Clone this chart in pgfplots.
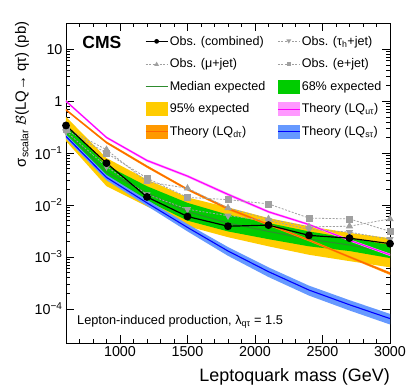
\documentclass[border=0pt]{standalone}
\usepackage{fontspec}
\setmainfont{Liberation Sans}
\usepackage{pgfplots}
\pgfplotsset{compat=1.18}
\usepackage{pgfplotstable}

\definecolor{cmsyellow}{HTML}{FFCC00}
\definecolor{cmsgreen}{HTML}{00CC00}
\definecolor{medgreen}{HTML}{2E8B2E}
\definecolor{obsgrey}{HTML}{A0A0A0}
\definecolor{lqmag}{HTML}{FF00FF}
\definecolor{lqmagband}{HTML}{FF99FF}
\definecolor{lqorange}{HTML}{FF6600}
\definecolor{lqorangeband}{HTML}{FF9900}
\definecolor{lqblue}{HTML}{0000FF}
\definecolor{lqblueband}{HTML}{6699FF}

% observed limits
\pgfplotstableread{
m     comb     tau      mu       el
600   0.34     0.26     0.30     0.28
900   0.064    0.055    0.116    0.100
1200  0.0143   0.016    0.028    0.033
1500  0.0060   0.0083   0.021    0.014
1800  0.0039   0.0062   0.0088   0.0127
2100  0.0041   0.0050   0.0054   0.0105
2400  0.0026   0.0034   0.0038   0.0056
2700  0.0023   0.0030   0.0039   0.0054
3000  0.0018   0.0022   0.0054   0.0031
}\obsdata

% expected median
\pgfplotstableread{
m     med
600   0.27
900   0.043
1200  0.017
1500  0.0075
1800  0.0045
2100  0.0031
2400  0.0022
2700  0.0017
3000  0.0012
}\expdata

% 95% band: upper edge forward, lower edge backward
\pgfplotstableread{
m     v
600   0.50
900   0.080
1200  0.031
1500  0.0140
1800  0.0090
2100  0.0056
2400  0.0039
2700  0.0029
3000  0.0023
3000  0.00063
2700  0.00083
2400  0.0011
2100  0.0016
1800  0.0024
1500  0.0039
1200  0.0094
900   0.023
600   0.17
}\bandyellow

% 68% band
\pgfplotstableread{
m     v
600   0.36
900   0.058
1200  0.023
1500  0.011
1800  0.0065
2100  0.0045
2400  0.0031
2700  0.0023
3000  0.0017
3000  0.00095
2700  0.0013
2400  0.0016
2100  0.0022
1800  0.0031
1500  0.0050
1200  0.012
900   0.031
600   0.21
}\bandgreen

% theory central values
\pgfplotstableread{
m     ut       dt       st
600   1.0      0.68     0.21
900   0.20     0.16     0.034
1200  0.072    0.055    0.011
1500  0.036    0.020    0.0037
1800  0.016    0.0085   0.0013
2100  0.0074   0.0042   0.00052
2400  0.0042   0.0021   0.00023
2700  0.0021   0.0010   0.00012
3000  0.0011   0.00048  0.000065
}\thdata

% theory bands (upper forward, lower backward)
\pgfplotstableread{
m     ut        dt        st
600   1.05      0.71      0.23
900   0.21      0.168     0.038
1200  0.076     0.058     0.0126
1500  0.038     0.021     0.0043
1800  0.017     0.0090    0.00155
2100  0.0078    0.0044    0.00063
2400  0.0044    0.0022    0.00028
2700  0.0022    0.00105   0.000147
3000  0.00116   0.00051   0.000080
3000  0.00104   0.00045   0.000050
2700  0.0020    0.00095   0.000093
2400  0.0040    0.0020    0.00018
2100  0.0070    0.0040    0.00041
1800  0.015     0.0080    0.00105
1500  0.034     0.019     0.0031
1200  0.068     0.052     0.0096
900   0.19      0.152     0.030
600   0.95      0.65      0.19
}\thband

\begin{document}
\begin{tikzpicture}
\begin{axis}[
  at={(0,0)}, anchor=south west,
  scale only axis, width=324bp, height=320bp,
  xmin=600, xmax=3000,
  ymode=log, ymin=2.2e-5, ymax=32,
  xtick={1000,1500,2000,2500,3000},
  minor xtick={600,700,800,900,1100,1200,1300,1400,1600,1700,1800,1900,2100,2200,2300,2400,2600,2700,2800,2900},
  ytick={1e-4,1e-3,1e-2,1e-1,1,10},
  yticklabels={10\textsuperscript{−4},10\textsuperscript{−3},10\textsuperscript{−2},10\textsuperscript{−1},1,10},
  tick align=inside, xtick pos=both, ytick pos=both,
  major tick length=8bp, minor tick length=4bp,
  every tick/.style={black, line width=0.5pt},
  axis line style={black, line width=0.7pt},
  ticklabel style={font=\fontsize{14.4}{16}\selectfont},
  /pgf/number format/assume math mode=true,
  /pgf/number format/1000 sep={},
  xlabel={Leptoquark mass (GeV)},
  xlabel style={at={(axis description cs:1,-0.078)}, anchor=north east, inner sep=0pt, font=\fontsize{18}{20}\selectfont},
  ylabel={σ\textsubscript{scalar} $\mathcal{B}$(LQ→ qτ) (pb)},
  ylabel style={at={(axis description cs:-0.136,1.005)}, anchor=east, inner sep=0pt, font=\fontsize{15}{17}\selectfont},
  legend columns=2,
  legend cell align=left,
  legend style={at={(axis description cs:0.2438,0.978)}, anchor=north west, draw=none, fill=none,
    inner sep=0pt, outer sep=0pt, row sep=0pt, column sep=0pt,
    font=\fontsize{12.6}{14}\selectfont, nodes={inner sep=1.5bp}},
]

% legend entries
\addlegendimage{legend image code/.code={\path[draw=none,fill=none] (0bp,-11.3bp) rectangle (22bp,11.3bp);
   \draw[black, line width=1.2pt] (0bp,0bp) -- (22bp,0bp); \fill[black, draw=none] (11bp,0bp) circle (2.4bp);}}
\addlegendentry{\makebox[106bp][l]{Obs. (combined)}}
\addlegendimage{legend image code/.code={\path[draw=none,fill=none] (0bp,-11.3bp) rectangle (22bp,11.3bp);
   \draw[obsgrey, line width=0.8pt, dash pattern=on 2bp off 1.5bp] (0bp,0bp) -- (22bp,0bp);
   \fill[obsgrey, draw=none] (8.5bp,2bp) -- (13.5bp,2bp) -- (11bp,-2.3bp) -- cycle;}}
\addlegendentry{Obs. (τ\textsubscript{h}+jet)}
\addlegendimage{legend image code/.code={\path[draw=none,fill=none] (0bp,-11.3bp) rectangle (22bp,11.3bp);
   \draw[obsgrey, line width=0.8pt, dash pattern=on 2bp off 1.5bp] (0bp,0bp) -- (22bp,0bp);
   \fill[obsgrey, draw=none] (8.5bp,-2bp) -- (13.5bp,-2bp) -- (11bp,2.3bp) -- cycle;}}
\addlegendentry{\makebox[106bp][l]{Obs. (μ+jet)}}
\addlegendimage{legend image code/.code={\path[draw=none,fill=none] (0bp,-11.3bp) rectangle (22bp,11.3bp);
   \draw[obsgrey, line width=0.8pt, dash pattern=on 2bp off 1.5bp] (0bp,0bp) -- (22bp,0bp);
   \fill[obsgrey, draw=none] (9bp,-2bp) rectangle (13bp,2bp);}}
\addlegendentry{Obs. (e+jet)}
\addlegendimage{legend image code/.code={\path[draw=none,fill=none] (0bp,-11.3bp) rectangle (22bp,11.3bp);
   \draw[medgreen, line width=1.3pt] (0bp,0bp) -- (22bp,0bp);}}
\addlegendentry{\makebox[106bp][l]{Median expected}}
\addlegendimage{legend image code/.code={\path[draw=none,fill=none] (0bp,-11.3bp) rectangle (22bp,11.3bp);
   \fill[cmsgreen, draw=none] (0bp,-7bp) rectangle (22bp,7bp);}}
\addlegendentry{68\% expected}
\addlegendimage{legend image code/.code={\path[draw=none,fill=none] (0bp,-11.3bp) rectangle (22bp,11.3bp);
   \fill[cmsyellow, draw=none] (0bp,-7bp) rectangle (22bp,7bp);}}
\addlegendentry{\makebox[106bp][l]{95\% expected}}
\addlegendimage{legend image code/.code={\path[draw=none,fill=none] (0bp,-11.3bp) rectangle (22bp,11.3bp);
   \fill[lqmagband, draw=none] (0bp,-7bp) rectangle (22bp,7bp);
   \draw[lqmag, line width=1pt] (0bp,0bp) -- (22bp,0bp);}}
\addlegendentry{Theory (LQ\textsubscript{uτ})}
\addlegendimage{legend image code/.code={\path[draw=none,fill=none] (0bp,-11.3bp) rectangle (22bp,11.3bp);
   \fill[lqorangeband, draw=none] (0bp,-7bp) rectangle (22bp,7bp);
   \draw[lqorange, line width=1pt] (0bp,0bp) -- (22bp,0bp);}}
\addlegendentry{\makebox[106bp][l]{Theory (LQ\textsubscript{dτ})}}
\addlegendimage{legend image code/.code={\path[draw=none,fill=none] (0bp,-11.3bp) rectangle (22bp,11.3bp);
   \fill[lqblueband, draw=none] (0bp,-7bp) rectangle (22bp,7bp);
   \draw[lqblue, line width=1pt] (0bp,0bp) -- (22bp,0bp);}}
\addlegendentry{Theory (LQ\textsubscript{sτ})}

% expected bands
\addplot[fill=cmsyellow, draw=none, forget plot] table[x=m, y=v] {\bandyellow} -- cycle;
\addplot[fill=cmsgreen, draw=none, forget plot] table[x=m, y=v] {\bandgreen} -- cycle;
\addplot[medgreen, line width=1pt, forget plot] table[x=m, y=med] {\expdata};

% theory
\addplot[fill=lqblueband, draw=none, forget plot] table[x=m, y=st] {\thband} -- cycle;
\addplot[lqblue, line width=1.1pt, forget plot] table[x=m, y=st] {\thdata};
\addplot[fill=lqorangeband, draw=none, forget plot] table[x=m, y=dt] {\thband} -- cycle;
\addplot[lqorange, line width=1.1pt, forget plot] table[x=m, y=dt] {\thdata};
\addplot[fill=lqmagband, draw=none, forget plot] table[x=m, y=ut] {\thband} -- cycle;
\addplot[lqmag, line width=1.1pt, forget plot] table[x=m, y=ut] {\thdata};

% observed per channel
\addplot[obsgrey, line width=0.8pt, dash pattern=on 2bp off 1.5bp, mark=triangle*, mark size=3.5bp,
  mark options={solid, rotate=180}, forget plot] table[x=m, y=tau] {\obsdata};
\addplot[obsgrey, line width=0.8pt, dash pattern=on 2bp off 1.5bp, mark=triangle*, mark size=3.5bp,
  mark options={solid}, forget plot] table[x=m, y=mu] {\obsdata};
\addplot[obsgrey, line width=0.8pt, dash pattern=on 2bp off 1.5bp, mark=square*, mark size=3bp,
  mark options={solid}, forget plot] table[x=m, y=el] {\obsdata};
\addplot[black, line width=1.2pt, mark=*, mark size=3.3bp, forget plot] table[x=m, y=comb] {\obsdata};

\node[anchor=west, font=\fontsize{17.6}{19}\selectfont\bfseries] at (axis description cs:0.04,0.94) {CMS};
\node[anchor=south east, inner sep=0pt, font=\fontsize{12.4}{14}\selectfont] at (axis description cs:1,1.012) {138 fb\textsuperscript{-1} (13 TeV)};
\node[anchor=west, inner sep=0pt, font=\fontsize{12.8}{14}\selectfont] at (axis description cs:0.034,0.066) {Lepton-induced production, λ\textsubscript{qτ} = 1.5};
\end{axis}
\pgfresetboundingbox
\path[use as bounding box] (-66bp,-48bp) rectangle (341bp,343bp);
\end{tikzpicture}
\end{document}
